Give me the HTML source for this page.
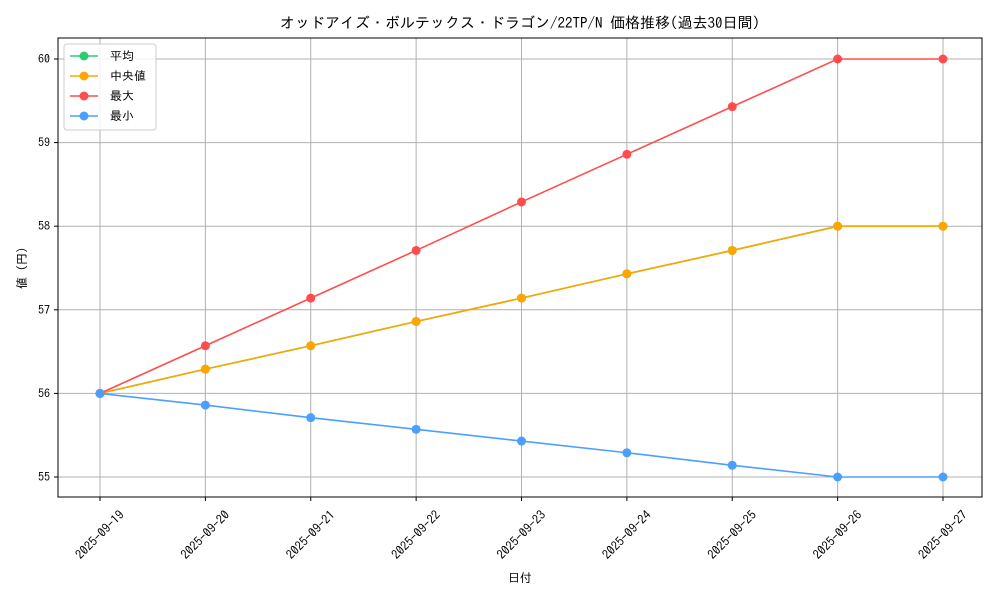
<!DOCTYPE html>
<html><head><meta charset="utf-8">
<style>
body{margin:0;background:#fff;font-family:"IPAGothic","Noto Sans CJK JP",sans-serif;}
svg text{font-family:"IPAGothic","Noto Sans CJK JP",sans-serif;}
</style></head>
<body>
<svg id="chart" width="1000" height="600" xmlns="http://www.w3.org/2000/svg">
<rect width="1000" height="600" fill="#fff"/>
<text x="520" y="28" font-size="15" text-anchor="middle" fill="#000">オッドアイズ・ボルテックス・ドラゴン/22TP/N 価格推移(過去30日間)</text>
<g id="grid"></g>
<g id="axes"></g>
<g id="series"></g>
<text x="520" y="582" font-size="12" text-anchor="middle">日付</text>
<text x="26" y="268" font-size="12" text-anchor="middle" transform="rotate(-90 26 268)">値 (円)</text>
<g id="legend"></g>
</svg>
<script>
const categories=["2025-09-19","2025-09-20","2025-09-21","2025-09-22","2025-09-23","2025-09-24","2025-09-25","2025-09-26","2025-09-27"];
const meanVals=[56,56.29,56.57,56.86,57.14,57.43,57.71,58,58];
const medianVals=[56,56.29,56.57,56.86,57.14,57.43,57.71,58,58];
const maxVals=[56,56.57,57.14,57.71,58.29,58.86,59.43,60,60];
const minVals=[56,55.86,55.71,55.57,55.43,55.29,55.14,55,55];
const yTicks=[55,56,57,58,59,60];
const seriesNames=["平均","中央値","最大","最小"];
const NS="http://www.w3.org/2000/svg";
const L=58,R=982,T=38,B=497;
function xs(i){return 100+i*(943-100)/(categories.length-1);}
function ys(v){return 477-(v-55)*(477-59)/5;}
function mk(tag,attrs,parent){const e=document.createElementNS(NS,tag);for(const k in attrs)e.setAttribute(k,attrs[k]);parent.appendChild(e);return e;}
const grid=document.getElementById('grid'),axes=document.getElementById('axes'),ser=document.getElementById('series'),leg=document.getElementById('legend');
categories.forEach((c,i)=>{
 const x=xs(i);
 const g=mk('line',{x1:x,x2:x,y1:T,y2:B,stroke:'#b0b0b0','stroke-width':1},grid);
 
 
 const tk=mk('line',{x1:x,x2:x,y1:B,y2:B+4,stroke:'#000'},axes);
 
 
 const cy=B+38;
 const t=mk('text',{x:x,y:cy+4,'font-size':12.5,'text-anchor':'middle',transform:`rotate(-45 ${x} ${cy})`},axes);
 
 
 t.textContent=c;
});
yTicks.forEach(v=>{
 const y=ys(v);
 const g=mk('line',{x1:L,x2:R,y1:y,y2:y,stroke:'#b0b0b0','stroke-width':1},grid);
 
 
 const tk=mk('line',{x1:L-4,x2:L,y1:y,y2:y,stroke:'#000'},axes);
 
 
 const t=mk('text',{x:L-8,y:y+4,'font-size':12,'text-anchor':'end'},axes);
 
 
 t.textContent=v;
});
const frame=mk('rect',{x:L,y:T,width:R-L,height:B-T,fill:'none',stroke:'#000','stroke-width':1},axes);


const data=[meanVals,medianVals,maxVals,minVals];
const colors=['#2ecc71','#ffa500','#ff4d4d','#4d9fff'];
const keys=['mean','median','max','min'];
data.forEach((vals,s)=>{
 const g=mk('g',{},ser);
 
 
 const p=mk('polyline',{points:vals.map((v,i)=>xs(i)+','+ys(v)).join(' '),fill:'none',stroke:colors[s],'stroke-width':1.6},g);
 
 
 vals.forEach((v,i)=>{
  const c=mk('circle',{cx:xs(i),cy:ys(v),r:4.5,fill:colors[s]},g);
  
  
 });
});
const box=mk('rect',{x:64,y:44,width:92,height:86,rx:3,fill:'#fff',stroke:'#ccc','fill-opacity':0.85},leg);


seriesNames.forEach((n,s)=>{
 const y=56+s*20;
 const g=mk('g',{},leg);
 
 
 mk('line',{x1:70,x2:98,y1:y,y2:y,stroke:colors[s],'stroke-width':1.6},g);
 mk('circle',{cx:84,cy:y,r:4.5,fill:colors[s]},g);
 const t=mk('text',{x:110,y:y+4,'font-size':12},g);
 t.textContent=n;
});
</script>
</body></html>
